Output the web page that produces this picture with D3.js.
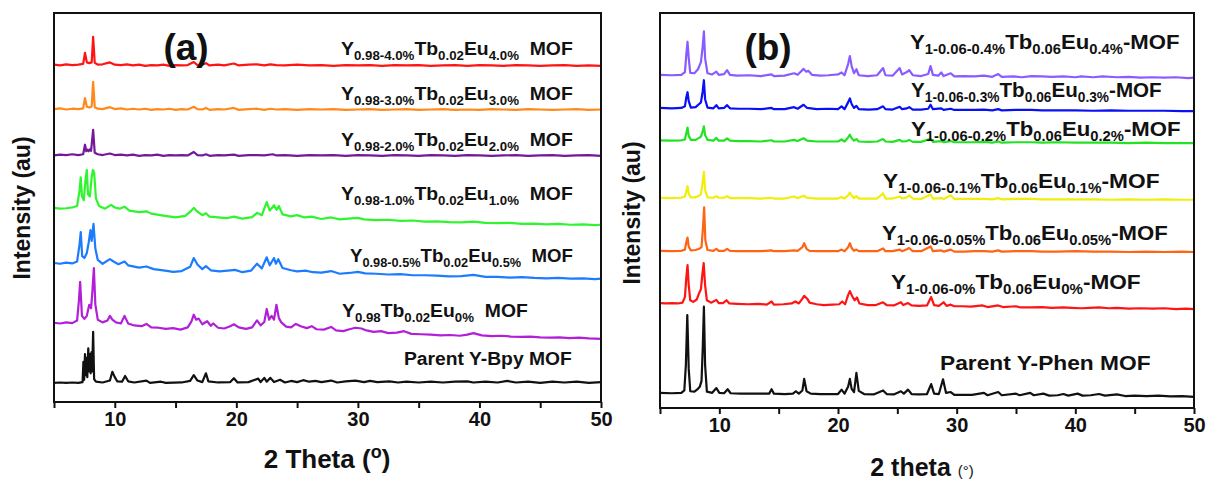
<!DOCTYPE html>
<html><head><meta charset="utf-8">
<script src="https://cdn.jsdelivr.net/npm/d3@7"></script>
<style>
body{margin:0;background:#fff;}
svg text{font-family:"Liberation Sans",Arial,sans-serif;font-weight:bold;fill:#111;}
</style></head><body>
<svg id="chart" width="1206" height="483"></svg>
<script>
// ---------------- DATA ----------------
const tickValues = [5,10,15,20,25,30,35,40,45,50];
const tickLabels = [10,20,30,40,50];

// Panel (a): offsets (a.u.) and patterns [2theta, intensity above offset]
const namesA = ["Eu4.0%","Eu3.0%","Eu2.0%","Eu1.0%","Eu0.5%","Eu0%","Parent Y-Bpy"];
const offsetsA = [86.2, 74.7, 62.7, 44.6, 30.5, 14.9, 3.4];
const a_eu40 = [[5,0.3],[5.5,0.1],[6,0.4],[6.5,0.2],[7,0.3],[7.4,0.5],[7.55,3.4],[7.7,0.9],[7.9,0.7],[8.1,0.9],[8.22,7.6],[8.35,0.8],[8.6,0.3],[9,0.4],[9.6,0.9],[10,0.3],[10.5,0.2],[11,0.4],[11.5,0.1],[12,0.3],[12.5,0],[13,0.2],[13.5,0.1],[14,0.3],[14.5,0],[15,0.2],[15.5,0.1],[16,0.2],[16.5,1.0],[16.8,0.2],[17.2,0.3],[17.5,0.7],[17.8,0.1],[18.5,0.3],[19,0.1],[19.8,0.6],[20.2,0.1],[21,0.3],[21.7,0.4],[22.3,0.1],[22.8,0.4],[23.3,0.2],[24,0.1],[25,0.3],[26,0.1],[27,0.2],[28,0],[29,0.2],[30,0.1],[31,0.2],[32,0],[33,0.2],[34,0.1],[35,0.2],[36,0],[37,0.1],[38,0.2],[39,0],[40,0.2],[41,0.1],[42,0],[43,0.2],[44,0.1],[45,0],[46,0.1],[47,0.2],[48,0],[49,0.1],[50,0]];
const a_eu30 = [[5,0.2],[5.5,0.4],[6,0.1],[6.5,0.3],[7,0.2],[7.4,0.4],[7.55,3.1],[7.7,0.8],[7.9,0.6],[8.1,0.9],[8.22,7.3],[8.35,0.7],[8.6,0.3],[9,0.2],[9.6,0.7],[10,0.2],[10.5,0.4],[11,0.1],[11.5,0.3],[12,0.1],[12.5,0.3],[13,0],[13.5,0.2],[14,0.1],[14.5,0.3],[15,0],[15.5,0.2],[16,0.1],[16.5,0.8],[16.8,0.2],[17.2,0.1],[17.5,0.5],[17.8,0],[18.5,0.2],[19,0.1],[19.8,0.5],[20.2,0],[21,0.2],[21.7,0.3],[22.3,0],[22.8,0.3],[23.3,0.1],[24,0.2],[25,0],[26,0.2],[27,0.1],[28,0.2],[29,0],[30,0.1],[31,0.2],[32,0],[33,0.1],[34,0.2],[35,0],[36,0.1],[37,0.2],[38,0],[39,0.1],[40,0],[41,0.2],[42,0.1],[43,0],[44,0.2],[45,0.1],[46,0],[47,0.1],[48,0.2],[49,0],[50,0.1]];
const a_eu20 = [[5,0.1],[5.5,0.3],[6,0.2],[6.5,0.4],[7,0.2],[7.4,0.4],[7.55,2.9],[7.65,1.2],[7.75,1.6],[7.85,1.2],[7.95,1.7],[8.05,1.3],[8.22,6.8],[8.35,0.8],[8.6,0.4],[9,0.2],[9.6,0.6],[10,0.2],[10.5,0.3],[11,0.1],[11.5,0.3],[12,0],[12.5,0.2],[13,0.1],[13.5,0.3],[14,0],[14.5,0.2],[15,0.1],[15.5,0.2],[16,0.1],[16.5,1.0],[16.8,0.2],[17.2,0.1],[17.5,0.4],[17.8,0],[18.5,0.2],[19,0.1],[19.8,0.3],[20.2,0],[21,0.2],[21.7,0.2],[22.3,0.1],[23,0.4],[23.3,0.1],[24,0.2],[25,0],[26,0.2],[27,0.1],[28,0.2],[29,0],[30,0.2],[31,0.1],[32,0],[33,0.2],[34,0.1],[35,0],[36,0.2],[37,0.1],[38,0],[39,0.2],[40,0.1],[41,0],[42,0.1],[43,0.2],[44,0],[45,0.1],[46,0.2],[47,0],[48,0.1],[49,0.2],[50,0]];
const a_eu10 = [[5,4.5],[5.5,4.3],[6,4.4],[6.5,4.6],[6.9,5.0],[7.1,9],[7.2,12.5],[7.3,7.5],[7.45,6.5],[7.6,12],[7.7,14.4],[7.8,8],[7.95,7.5],[8.1,12.5],[8.2,14.4],[8.3,13.8],[8.45,7],[8.7,5],[9.2,4.3],[9.7,5.3],[10,4.6],[10.4,4.3],[10.8,4.8],[11.2,3.8],[12,3.4],[12.6,3.6],[13,3.0],[14,2.5],[15,2.0],[15.8,2.4],[16.3,3.8],[16.5,4.5],[16.8,3.5],[17.2,2.6],[17.5,3.1],[17.8,2.2],[18.5,2.0],[19.2,1.8],[19.8,2.2],[20.5,1.7],[21.3,2.1],[21.7,3.2],[22.1,2.6],[22.5,6.0],[22.75,3.8],[23.1,5.2],[23.3,4.0],[23.5,5.0],[23.8,2.8],[24.5,2.3],[25,2.6],[25.6,2.0],[26.2,2.2],[27,1.6],[27.8,2.0],[28.5,1.5],[29.2,1.7],[30,1.9],[30.5,1.5],[31.5,1.3],[32.5,1.4],[33.5,1.1],[34.5,1.2],[35.5,0.9],[36.5,1.0],[37.5,0.8],[38.5,0.7],[39.5,0.9],[40.5,0.6],[41.5,0.5],[42.5,0.6],[43.5,0.3],[44.5,0.4],[45.5,0.2],[46.5,0.3],[47.5,0.1],[48.5,0.2],[49.5,0],[50,0.1]];
const a_eu05 = [[5,4.2],[5.5,4.0],[6,4.3],[6.5,4.1],[6.9,4.6],[7.1,9],[7.2,12.3],[7.32,6],[7.5,5.5],[7.7,6.8],[7.85,9.5],[8.0,12.8],[8.1,10],[8.25,14.4],[8.4,8],[8.6,5],[9,4.0],[9.6,5.2],[9.9,4.6],[10.3,3.9],[10.8,4.6],[11.1,3.6],[12,3.0],[12.6,3.3],[13.2,2.6],[14,2.3],[14.8,1.9],[15.5,2.1],[16.2,3.2],[16.5,5.5],[16.8,3.8],[17.2,2.6],[17.5,3.4],[17.9,2.3],[18.6,2.0],[19.3,2.2],[19.9,2.4],[20.5,1.8],[21.2,2.2],[21.7,4.0],[22.1,2.8],[22.5,5.7],[22.75,3.6],[23.1,5.5],[23.25,4.0],[23.45,5.2],[23.8,2.9],[24.5,2.3],[25,2.0],[25.7,2.2],[26.3,1.8],[27,1.7],[27.8,2.1],[28.5,1.4],[29.3,1.6],[30,1.9],[30.6,1.5],[31.5,1.4],[32.5,1.2],[33.5,1.3],[34.5,1.0],[35.5,1.0],[36.5,0.9],[37.5,0.7],[38.5,0.8],[39.5,1.1],[40.5,0.6],[41.5,0.6],[42.5,0.4],[43.5,0.5],[44.5,0.3],[45.5,0.2],[46.5,0.3],[47.5,0.1],[48.5,0.2],[49.5,0],[50,0.1]];
const a_eu0 = [[5,4.2],[5.5,4.0],[6,4.3],[6.5,4.1],[6.9,4.8],[7.05,10],[7.15,14.9],[7.3,6],[7.5,5.2],[7.7,6],[7.9,8.9],[8.05,8],[8.15,12],[8.28,18.5],[8.4,9],[8.6,5.0],[9,4.3],[9.4,4.8],[9.6,6.0],[9.8,5.0],[10.1,4.3],[10.5,4.0],[10.8,6.0],[11.1,4.0],[11.6,3.5],[12.2,3.3],[12.6,3.9],[13,3.0],[13.6,2.9],[14.2,2.6],[14.8,2.8],[15.4,2.4],[16,3.0],[16.3,4.5],[16.5,6.3],[16.7,5.0],[16.9,5.3],[17.2,3.8],[17.6,4.6],[17.9,3.4],[18.1,4.0],[18.5,2.9],[19,2.7],[19.5,3.3],[19.8,3.8],[20.2,3.0],[20.8,2.6],[21.3,3.0],[21.7,4.8],[22.0,3.5],[22.3,4.4],[22.5,7.8],[22.7,5.0],[22.9,6.0],[23.1,5.0],[23.3,8.9],[23.5,5.4],[23.7,4.3],[24.1,3.2],[24.5,3.0],[24.9,3.9],[25.3,3.3],[25.8,2.8],[26.2,3.3],[26.6,2.5],[27.2,2.4],[27.8,3.1],[28.2,2.2],[28.8,2.0],[29.3,2.5],[29.8,2.9],[30.3,2.7],[30.7,2.2],[31.3,1.8],[31.9,2.0],[32.5,1.5],[33.2,1.6],[33.8,2.0],[34.4,1.3],[35.2,1.2],[36,1.1],[36.8,0.9],[37.6,1.0],[38.4,0.8],[39,1.1],[39.5,1.5],[40.2,0.9],[41,0.7],[41.8,0.8],[42.6,0.6],[43.4,0.5],[44.2,0.6],[45,0.4],[45.8,0.3],[46.6,0.4],[47.4,0.2],[48.2,0.3],[49,0.1],[50,0]];
const a_parent = [[5,0],[5.5,0.1],[6,0],[6.5,0.1],[7,0],[7.35,0.2],[7.42,5.5],[7.48,0.8],[7.55,7.5],[7.6,2],[7.68,6.5],[7.74,1.5],[7.82,9],[7.88,3],[7.95,7.5],[8.02,2.5],[8.08,8],[8.14,3],[8.22,13.3],[8.3,1.0],[8.45,0.3],[9,0.1],[9.6,0.6],[9.8,2.9],[10.0,1.5],[10.2,0.4],[10.6,0.3],[10.85,1.8],[11.1,0.4],[11.6,0.1],[12.6,0.6],[12.9,0],[13.8,0.3],[14.2,0],[15.5,0.1],[16.2,0.5],[16.5,2.0],[16.8,0.6],[17.2,0.2],[17.5,2.5],[17.7,0.4],[18.5,0.1],[19.5,0.2],[19.8,1.2],[20.1,0.1],[21,0.2],[21.8,1.1],[22.0,0.2],[22.3,1.3],[22.5,0.3],[22.8,1.3],[23.1,0.2],[23.6,0.8],[24.0,0.1],[24.5,0.5],[25,0.2],[25.5,0.7],[26,0.3],[26.5,0.5],[27,0.2],[27.8,0.6],[28.3,0.1],[29,0.4],[29.8,0.6],[30.5,0.2],[31,0.5],[31.6,0.2],[32.6,0.4],[33.3,0.1],[34,0.3],[35,0.1],[36,0.3],[37,0.1],[38,0.3],[39,0.4],[39.5,0.1],[40.5,0.3],[41.5,0.1],[42.3,0.5],[43,0.1],[44,0.3],[45,0],[46,0.3],[47,0.1],[48,0.3],[49,0],[50,0.2]];
const seriesA = [a_eu40, a_eu30, a_eu20, a_eu10, a_eu05, a_eu0, a_parent];

// Panel (b)
const namesB = ["Eu0.4%","Eu0.3%","Eu0.2%","Eu0.1%","Eu0.05%","Eu0%","Parent Y-Phen"];
const offsetsB = [83.7, 75.4, 67.4, 53.2, 40.1, 25.8, 3.8];
const b_eu04 = [[5,0.8],[6,0.7],[6.8,0.8],[7.1,1.5],[7.22,6],[7.32,9.1],[7.42,5],[7.55,1.3],[7.9,1.2],[8.2,2.2],[8.45,4],[8.6,8],[8.7,11.7],[8.8,5],[9.0,1.2],[9.4,0.9],[9.75,1.6],[9.95,0.8],[10.4,1.0],[10.65,2.0],[10.9,0.8],[11.5,0.6],[12.5,0.7],[13.5,0.5],[14.4,0.9],[14.6,0.5],[15.5,0.6],[16.3,1.2],[16.6,0.8],[17.1,2.3],[17.3,1.6],[17.5,1.8],[17.8,0.8],[18.5,0.6],[19.2,0.7],[20.0,0.9],[20.3,1.4],[20.55,0.7],[20.85,3.5],[21.0,5.5],[21.15,3.0],[21.35,1.2],[21.55,2.2],[21.75,0.7],[22.5,0.5],[23.3,0.7],[23.8,2.5],[24.0,0.7],[24.6,0.6],[25.2,2.5],[25.4,0.9],[25.8,1.5],[26.0,2.0],[26.3,0.7],[27.0,0.5],[27.6,1.0],[27.8,3.0],[28.0,0.8],[28.45,0.6],[28.7,1.4],[28.9,0.5],[29.5,1.2],[29.8,0.4],[30.6,0.5],[31.5,0.4],[32.3,0.6],[33.0,0.3],[33.5,1.0],[33.8,0.3],[34.8,0.4],[35.5,0.2],[36.3,0.5],[37.2,0.4],[38,0.3],[39,0.4],[40,0.2],[40.5,0.4],[41.5,0.2],[42.3,0.4],[43.5,0.2],[44.5,0.3],[45.5,0.1],[46.5,0.2],[47.5,0.1],[48.5,0.2],[49.5,0],[50,0.1]];
const b_eu03 = [[5,0.8],[6,0.7],[6.8,0.8],[7.1,1.2],[7.22,3.5],[7.32,4.75],[7.42,2.5],[7.6,0.9],[8.0,1.0],[8.3,1.8],[8.45,2.2],[8.6,5],[8.7,7.75],[8.8,3],[9.0,0.9],[9.5,0.7],[9.75,1.5],[9.95,0.7],[10.4,0.8],[10.65,1.5],[10.9,0.7],[11.6,0.6],[12.5,0.6],[13.5,0.5],[14.4,0.8],[14.6,0.5],[15.5,0.5],[16.3,1.0],[16.6,0.6],[17.1,1.6],[17.4,0.8],[18.2,0.5],[19.2,0.6],[20.0,0.5],[20.3,1.2],[20.55,0.5],[20.85,2.2],[21.0,3.2],[21.15,1.8],[21.35,0.8],[21.55,1.3],[21.75,0.5],[22.6,0.4],[23.3,0.5],[23.8,1.2],[24.0,0.5],[24.6,0.4],[25.2,1.1],[25.4,0.5],[25.8,0.7],[26.0,1.0],[26.3,0.4],[27.0,0.4],[27.6,0.6],[27.8,1.6],[28.0,0.5],[28.7,0.7],[28.9,0.3],[29.5,0.6],[29.8,0.3],[30.6,0.3],[31.5,0.3],[32.3,0.4],[33.0,0.2],[33.5,0.5],[33.8,0.2],[35,0.3],[36.3,0.3],[37.2,0.2],[38.5,0.2],[40,0.2],[41.5,0.1],[43,0.2],[44.5,0.1],[46,0.1],[47.5,0.1],[49,0],[50,0]];
const b_eu02 = [[5,0.7],[6,0.6],[6.8,0.7],[7.1,0.9],[7.22,2.5],[7.32,3.9],[7.42,1.8],[7.6,0.8],[8.0,0.8],[8.3,1.3],[8.45,1.6],[8.6,3.0],[8.7,4.2],[8.8,2.0],[9.0,0.8],[9.5,0.6],[9.75,1.3],[9.95,0.6],[10.4,0.6],[10.65,1.2],[10.9,0.6],[11.6,0.5],[12.5,0.5],[13.5,0.4],[14.4,0.7],[14.6,0.4],[15.5,0.4],[16.3,0.8],[16.6,0.5],[17.1,1.2],[17.4,0.6],[18.2,0.4],[19.2,0.4],[20.0,0.4],[20.3,0.9],[20.55,0.4],[20.85,1.4],[21.0,2.1],[21.15,1.2],[21.35,0.6],[21.55,1.0],[21.75,0.4],[22.6,0.3],[23.3,0.4],[23.8,1.0],[24.0,0.4],[24.6,0.3],[25.2,0.8],[25.4,0.4],[25.8,0.5],[26.0,0.8],[26.3,0.3],[27.0,0.3],[27.8,1.1],[28.0,0.3],[28.7,0.5],[28.9,0.2],[29.5,0.5],[29.8,0.2],[30.6,0.2],[31.5,0.2],[32.3,0.3],[33.0,0.1],[33.5,0.4],[33.8,0.1],[35,0.2],[36.3,0.2],[37.2,0.1],[38.5,0.2],[40,0.1],[41.5,0.1],[43,0.1],[44.5,0],[46,0.1],[47.5,0],[49,0],[50,0]];
const b_eu01 = [[5,0.5],[6,0.4],[6.8,0.5],[7.1,0.8],[7.22,2.2],[7.32,3.4],[7.42,1.5],[7.6,0.6],[8.0,0.6],[8.3,1.0],[8.45,1.4],[8.6,4.5],[8.7,7.0],[8.8,2.5],[9.0,0.6],[9.5,0.5],[9.75,0.9],[9.95,0.5],[10.4,0.5],[10.65,0.9],[10.9,0.4],[11.6,0.4],[12.5,0.4],[13.5,0.3],[14.4,0.5],[14.6,0.3],[15.5,0.3],[16.3,0.8],[16.6,0.4],[17.1,1.0],[17.4,0.5],[18.2,0.3],[19.2,0.3],[20.0,0.3],[20.3,0.7],[20.55,0.3],[20.85,1.1],[21.0,1.8],[21.15,1.0],[21.35,0.4],[21.55,0.9],[21.75,0.3],[22.6,0.3],[23.3,0.3],[23.8,1.6],[24.0,0.3],[24.6,0.3],[25.2,0.8],[25.4,0.3],[25.8,0.6],[26.0,1.1],[26.3,0.3],[27.0,0.2],[27.8,1.3],[28.0,0.3],[28.7,0.4],[28.9,0.2],[29.5,1.1],[29.8,0.2],[30.6,0.2],[31.5,0.2],[32.3,0.2],[33.0,0.1],[33.5,0.4],[33.8,0.1],[35,0.2],[36.3,0.2],[37.2,0.1],[38.5,0.1],[40,0.1],[41.5,0.1],[43,0],[44.5,0.1],[46,0],[47.5,0.1],[49,0],[50,0]];
const b_eu005 = [[5,0.3],[6,0.2],[6.8,0.3],[7.1,0.6],[7.22,2.5],[7.32,3.6],[7.42,1.4],[7.6,0.4],[8.0,0.5],[8.3,0.8],[8.5,1.2],[8.62,6],[8.72,11.2],[8.82,3],[9.0,0.5],[9.5,0.3],[9.75,0.8],[9.95,0.3],[10.4,0.3],[10.65,0.8],[10.9,0.3],[11.6,0.2],[12.5,0.2],[13.5,0.2],[14.4,0.4],[14.6,0.2],[15.5,0.2],[16.3,0.4],[16.6,0.3],[17.0,1.2],[17.15,2.2],[17.35,0.8],[17.6,0.3],[18.2,0.2],[19.2,0.2],[20.0,0.2],[20.3,0.6],[20.55,0.2],[20.85,1.2],[21.0,2.2],[21.15,1.0],[21.35,0.3],[21.55,0.6],[21.75,0.2],[22.6,0.2],[23.3,0.2],[23.8,0.9],[24.0,0.2],[24.6,0.2],[25.2,0.6],[25.4,0.2],[25.8,0.7],[26.0,1.0],[26.3,0.2],[27.0,0.2],[27.8,1.4],[28.0,0.2],[28.7,0.4],[28.9,0.1],[29.5,0.6],[29.8,0.1],[30.6,0.1],[31.5,0.2],[32.3,0.2],[33.0,0.1],[33.5,0.4],[33.8,0.1],[35,0.2],[36.3,0.2],[37.2,0.1],[38.5,0.1],[40,0.2],[41.5,0.1],[43,0.1],[44.5,0],[46,0.1],[47.5,0],[49,0.1],[50,0]];
const b_eu0 = [[5,1.5],[5.5,1.4],[6,1.5],[6.5,1.4],[6.9,1.6],[7.1,3],[7.22,8],[7.32,11.0],[7.42,6],[7.55,2.2],[7.8,1.8],[8.1,2.4],[8.3,4.0],[8.45,5],[8.58,9],[8.68,11.5],[8.8,6],[8.95,2.2],[9.3,1.6],[9.75,2.3],[9.95,1.5],[10.3,1.5],[10.6,2.2],[10.85,1.4],[11.5,1.3],[12.4,1.2],[13.3,1.3],[14.0,1.1],[14.4,1.9],[14.6,1.1],[15.4,1.2],[16.1,1.4],[16.4,1.9],[16.7,1.4],[17.0,2.6],[17.15,3.3],[17.4,2.6],[17.6,1.6],[18.2,1.2],[18.8,1.0],[19.5,1.1],[20.1,1.2],[20.35,1.9],[20.6,1.2],[20.85,3.5],[21.0,4.5],[21.2,3.2],[21.4,2.2],[21.6,2.9],[21.8,1.4],[22.5,1.0],[23.2,1.0],[23.8,1.7],[24.1,1.0],[24.7,0.9],[25.3,1.7],[25.5,1.0],[25.9,1.5],[26.2,0.9],[26.8,0.8],[27.5,0.9],[27.85,3.0],[28.1,1.0],[28.5,0.8],[28.9,1.7],[29.15,0.8],[29.5,1.1],[29.8,0.7],[30.5,0.7],[31.2,0.6],[32.2,0.9],[32.6,0.5],[33.5,0.9],[33.9,0.5],[35,0.7],[35.4,0.4],[36.3,0.4],[37.2,0.5],[38,0.3],[39,0.4],[39.7,0.3],[40.5,0.2],[41.2,0.3],[42,0.4],[42.8,0.2],[43.5,0.3],[44.5,0.1],[45.5,0.2],[46.5,0.1],[47.5,0.2],[48.5,0],[49.3,0.1],[50,0]];
const b_parent = [[5,1.0],[6,0.9],[6.8,1.0],[7.05,1.6],[7.18,8],[7.3,20.5],[7.42,7],[7.55,1.4],[7.9,1.3],[8.2,2.0],[8.35,2.5],[8.5,4],[8.6,12],[8.7,22.6],[8.8,8],[8.95,1.3],[9.4,1.0],[9.75,2.2],[10.0,1.0],[10.4,0.9],[10.7,1.9],[10.95,0.9],[11.8,0.8],[12.8,0.8],[13.6,0.8],[14.2,0.8],[14.4,1.9],[14.6,0.8],[15.5,0.7],[16.2,0.8],[16.45,1.4],[16.7,0.8],[17.0,1.6],[17.15,4.5],[17.35,1.4],[17.7,0.8],[18.5,0.7],[19.3,0.7],[20.0,0.7],[20.3,1.8],[20.55,0.8],[20.85,2.5],[21.0,4.5],[21.15,2.0],[21.35,1.2],[21.55,6.0],[21.75,1.5],[22.2,0.7],[23.0,0.6],[23.8,1.6],[24.1,0.7],[24.7,0.6],[25.3,1.4],[25.55,0.8],[25.9,1.8],[26.2,0.7],[26.8,0.6],[27.5,0.7],[27.85,3.2],[28.1,0.8],[28.5,0.7],[28.85,4.4],[29.1,1.0],[29.5,1.2],[29.8,0.5],[30.5,0.5],[31.3,0.5],[32.3,1.0],[32.6,0.4],[33.5,1.2],[33.8,0.4],[35,0.8],[35.3,0.4],[36.2,1.0],[36.5,0.4],[37.3,0.8],[37.8,0.3],[38.5,0.4],[39,0.7],[39.4,0.3],[40.2,0.8],[40.6,0.3],[41.3,0.4],[42,0.7],[42.5,0.3],[43.5,0.6],[44.2,0.2],[45,0.3],[46,0.2],[47,0.3],[48,0.1],[49,0.2],[50,0]];
const seriesB = [b_eu04, b_eu03, b_eu02, b_eu01, b_eu005, b_eu0, b_parent];

// Labels (text parts: 0 normal, 1 subscript, 2 superscript)
const labelsA = [
  [["Y",0],["0.98-4.0%",1],["Tb",0],["0.02",1],["Eu",0],["4.0%",1],["  MOF",0]],
  [["Y",0],["0.98-3.0%",1],["Tb",0],["0.02",1],["Eu",0],["3.0%",1],["  MOF",0]],
  [["Y",0],["0.98-2.0%",1],["Tb",0],["0.02",1],["Eu",0],["2.0%",1],["  MOF",0]],
  [["Y",0],["0.98-1.0%",1],["Tb",0],["0.02",1],["Eu",0],["1.0%",1],["  MOF",0]],
  [["Y",0],["0.98-0.5%",1],["Tb",0],["0.02",1],["Eu",0],["0.5%",1],["  MOF",0]],
  [["Y",0],["0.98",1],["Tb",0],["0.02",1],["Eu",0],["0%",1],["  MOF",0]],
  [["Parent Y-Bpy MOF",0]]
];
const labelsB = [
  [["Y",0],["1-0.06-0.4%",1],["Tb",0],["0.06",1],["Eu",0],["0.4%",1],["-MOF",0]],
  [["Y",0],["1-0.06-0.3%",1],["Tb",0],["0.06",1],["Eu",0],["0.3%",1],["-MOF",0]],
  [["Y",0],["1-0.06-0.2%",1],["Tb",0],["0.06",1],["Eu",0],["0.2%",1],["-MOF",0]],
  [["Y",0],["1-0.06-0.1%",1],["Tb",0],["0.06",1],["Eu",0],["0.1%",1],["-MOF",0]],
  [["Y",0],["1-0.06-0.05%",1],["Tb",0],["0.06",1],["Eu",0],["0.05%",1],["-MOF",0]],
  [["Y",0],["1-0.06-0%",1],["Tb",0],["0.06",1],["Eu",0],["0%",1],["-MOF",0]],
  [["Parent Y-Phen MOF",0]]
];
const colorsA = ["#ff1414","#ff8a1c","#74189a","#2ef52e","#1c7cff","#b21fd8","#111111"];
const colorsB = ["#8a5cff","#0a10f5","#22e322","#f0ee0a","#ff6414","#ff1414","#111111"];

// ---------------- LAYOUT ----------------
const svg = d3.select("#chart");
const panels = [
  {box:{l:54,r:601,t:13,b:402}, ydom:[-1.6,100], series:seriesA, offsets:offsetsA, colors:colorsA, labels:labelsA,
   labelPos:[[341,48,232],[341,93,232],[341,139,232],[341,193,232],[350,255,223],[342,310,186],[404,358,168]],
   lfs:19, lsfs:13, tag:"(a)", tagPos:[186,47], ylab:[22,208], tickFs:20},
  {box:{l:660,r:1194,t:13,b:408}, ydom:[1.0,100], series:seriesB, offsets:offsetsB, colors:colorsB, labels:labelsB,
   labelPos:[[910,41,270],[911,89,251],[911,128,270],[883,180,277],[882,232,286],[891,281,250],[940,362,211]],
   lfs:21, lsfs:14, tag:"(b)", tagPos:[768,47], ylab:[632,213], tickFs:20}
];

function rich(sel, parts, o){
  const g = sel.append("g");
  const t = g.append("text").attr("xml:space","preserve").style("white-space","pre");
  let shift = 0;
  parts.forEach(([s,k])=>{
    const target = k===1 ? o.sub : (k===2 ? -o.sup : 0);
    t.append("tspan").attr("dy", target-shift).style("font-size",(k? o.sfs:o.fs)+"px").text(s);
    shift = target;
  });
  t.attr("y", o.fs*0.36);
  const bb = t.node().getBBox();
  const sx = o.w ? o.w/bb.width : 1;
  let x0 = o.anchor==="middle" ? o.x - bb.width*sx/2 : o.x;
  g.attr("transform",`translate(${x0 - bb.x*sx},${o.cy}) scale(${sx},1)`);
  return g;
}

panels.forEach(p=>{
  const x = d3.scaleLinear().domain([5,50]).range([p.box.l,p.box.r]);
  const y = d3.scaleLinear().domain(p.ydom).range([p.box.b,p.box.t]);
  const g = svg.append("g");
  const ax = d3.axisBottom(x).tickValues(tickValues)
    .tickFormat(d=> tickLabels.includes(d) ? d : "").tickSize(6).tickSizeOuter(0).tickPadding(4);
  const axg = g.append("g").attr("transform",`translate(0,${p.box.b})`).call(ax);
  axg.select(".domain").remove();
  axg.selectAll(".tick line").attr("stroke","#111").attr("stroke-width",2);
  axg.selectAll(".tick text").style("font-size",p.tickFs+"px")
     .style("font-family",'"Liberation Sans",Arial,sans-serif').style("font-weight","bold").attr("fill","#111");
  p.series.forEach((s,i)=>{
    const line = d3.line().x(d=>x(d[0])).y(d=>y(d[1]+p.offsets[i]));
    g.append("path").datum(s).attr("d",line).attr("fill","none")
      .attr("stroke",p.colors[i]).attr("stroke-width",2.2).attr("stroke-linejoin","round");
  });
  g.append("rect").attr("x",p.box.l).attr("y",p.box.t).attr("width",p.box.r-p.box.l)
    .attr("height",p.box.b-p.box.t).attr("fill","none").attr("stroke","#111").attr("stroke-width",2);
  p.labels.forEach((parts,i)=>{
    const [lx,ly,lw] = p.labelPos[i];
    rich(g, parts, {x:lx, cy:ly, w:lw, fs:p.lfs, sfs:p.lsfs, sub:5, sup:8});
  });
  g.append("text").attr("x",p.tagPos[0]).attr("y",p.tagPos[1]+13).attr("text-anchor","middle")
    .style("font-size","37px").text(p.tag);
  g.append("text").attr("transform",`translate(${p.ylab[0]},${p.ylab[1]}) rotate(-90)`)
    .attr("text-anchor","middle").attr("dy","0.36em").style("font-size","23px").text("Intensity (au)");
});

// x axis titles
rich(svg, [["2 Theta (",0],["o",2],[")",0]], {x:327, cy:459, fs:26, sfs:18, sub:0, sup:10, anchor:"middle"});
const tb = svg.append("text").attr("x",922).attr("y",467+9).attr("text-anchor","middle").style("font-size","25px");
tb.append("tspan").text("2 theta ");
tb.append("tspan").style("font-size","15px").style("font-weight","normal").text("(°)");
</script>
</body></html>
